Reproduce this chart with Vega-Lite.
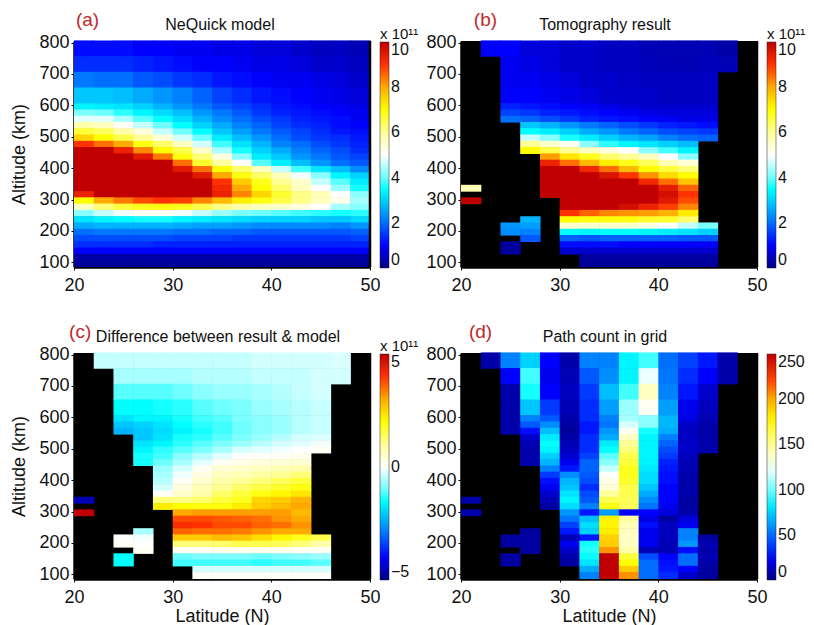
{"$schema":"https://vega.github.io/schema/vega-lite/v6.json","padding":{"left":10,"top":10,"right":0,"bottom":0},"bounds":"flush","background":"white",
"config":{"font":"Liberation Sans","axis":{"grid":false,"domainColor":"black","domainWidth":2.5,"tickColor":"black","tickSize":3,"labelColor":"#111","titleColor":"#111","labelFontSize":18,"titleFontSize":18,"titleFontWeight":"normal","labelFlush":false,"zindex":1,"labelOverlap":false},"legend":{"labelFontSize":16,"labelColor":"#111","labelBaseline":"middle","titleFontSize":15,"titleFontWeight":"normal","titleColor":"#111","gradientThickness":9,"gradientLength":226,"gradientStrokeColor":"#222","gradientStrokeWidth":0.5,"labelOffset":3,"titlePadding":0,"labelOverlap":false},"title":{"fontSize":16,"fontWeight":"normal","color":"#111"}},
"datasets":{"grid":[
{"lat":20,"lat2":22,"alt":755,"alt2":805,"a":1.1},{"lat":22,"lat2":24,"alt":755,"alt2":805,"a":1.1,"b":1.0,"c":-0.4,"d":8},{"lat":24,"lat2":26,"alt":755,"alt2":805,"a":1.1,"b":1.0,"c":-0.4,"d":55},{"lat":26,"lat2":28,"alt":755,"alt2":805,"a":1.0,"b":0.7,"c":-0.4,"d":75},{"lat":28,"lat2":30,"alt":755,"alt2":805,"a":1.0,"b":0.7,"c":-0.4,"d":25},{"lat":30,"lat2":32,"alt":755,"alt2":805,"a":0.9,"b":0.6,"c":-0.4,"d":8},{"lat":32,"lat2":34,"alt":755,"alt2":805,"a":0.9,"b":0.6,"c":-0.4,"d":55},{"lat":34,"lat2":36,"alt":755,"alt2":805,"a":0.8,"b":0.5,"c":-0.4,"d":55},{"lat":36,"lat2":38,"alt":755,"alt2":805,"a":0.8,"b":0.5,"c":-0.4,"d":85},{"lat":38,"lat2":40,"alt":755,"alt2":805,"a":0.7,"b":0.4,"c":-0.3,"d":95},{"lat":40,"lat2":42,"alt":755,"alt2":805,"a":0.7,"b":0.4,"c":-0.3,"d":50},{"lat":42,"lat2":44,"alt":755,"alt2":805,"a":0.6,"b":0.4,"c":-0.3,"d":40},{"lat":44,"lat2":46,"alt":755,"alt2":805,"a":0.5,"b":0.4,"c":-0.3,"d":30},{"lat":46,"lat2":48,"alt":755,"alt2":805,"a":0.5,"b":0.3,"c":-0.25,"d":8},{"lat":48,"lat2":50,"alt":755,"alt2":805,"a":0.4},
{"lat":20,"lat2":22,"alt":705,"alt2":755,"a":1.4},{"lat":22,"lat2":24,"alt":705,"alt2":755,"a":1.4},{"lat":24,"lat2":26,"alt":705,"alt2":755,"a":1.4,"b":0.9,"c":-0.6,"d":25},{"lat":26,"lat2":28,"alt":705,"alt2":755,"a":1.3,"b":0.8,"c":-0.6,"d":95},{"lat":28,"lat2":30,"alt":705,"alt2":755,"a":1.2,"b":0.7,"c":-0.6,"d":22},{"lat":30,"lat2":32,"alt":705,"alt2":755,"a":1.1,"b":0.6,"c":-0.6,"d":10},{"lat":32,"lat2":34,"alt":705,"alt2":755,"a":1.0,"b":0.6,"c":-0.5,"d":45},{"lat":34,"lat2":36,"alt":705,"alt2":755,"a":1.0,"b":0.5,"c":-0.5,"d":58},{"lat":36,"lat2":38,"alt":705,"alt2":755,"a":0.9,"b":0.5,"c":-0.5,"d":85},{"lat":38,"lat2":40,"alt":705,"alt2":755,"a":0.8,"b":0.45,"c":-0.4,"d":122},{"lat":40,"lat2":42,"alt":705,"alt2":755,"a":0.8,"b":0.4,"c":-0.4,"d":52},{"lat":42,"lat2":44,"alt":705,"alt2":755,"a":0.7,"b":0.4,"c":-0.4,"d":35},{"lat":44,"lat2":46,"alt":705,"alt2":755,"a":0.6,"b":0.45,"c":-0.3,"d":25},{"lat":46,"lat2":48,"alt":705,"alt2":755,"a":0.6,"b":0.4,"c":-0.3,"d":8},{"lat":48,"lat2":50,"alt":705,"alt2":755,"a":0.5},
{"lat":20,"lat2":22,"alt":655,"alt2":705,"a":2.1},{"lat":22,"lat2":24,"alt":655,"alt2":705,"a":2.0},{"lat":24,"lat2":26,"alt":655,"alt2":705,"a":2.0,"b":0.9,"c":-1.1,"d":8},{"lat":26,"lat2":28,"alt":655,"alt2":705,"a":1.8,"b":0.9,"c":-1.1,"d":90},{"lat":28,"lat2":30,"alt":655,"alt2":705,"a":1.7,"b":0.8,"c":-1.1,"d":25},{"lat":30,"lat2":32,"alt":655,"alt2":705,"a":1.5,"b":0.7,"c":-1.0,"d":12},{"lat":32,"lat2":34,"alt":655,"alt2":705,"a":1.4,"b":0.6,"c":-0.8,"d":38},{"lat":34,"lat2":36,"alt":655,"alt2":705,"a":1.2,"b":0.6,"c":-0.7,"d":70},{"lat":36,"lat2":38,"alt":655,"alt2":705,"a":1.1,"b":0.55,"c":-0.7,"d":95},{"lat":38,"lat2":40,"alt":655,"alt2":705,"a":1.0,"b":0.5,"c":-0.6,"d":140},{"lat":40,"lat2":42,"alt":655,"alt2":705,"a":0.9,"b":0.5,"c":-0.5,"d":55},{"lat":42,"lat2":44,"alt":655,"alt2":705,"a":0.9,"b":0.5,"c":-0.4,"d":30},{"lat":44,"lat2":46,"alt":655,"alt2":705,"a":0.8,"b":0.5,"c":-0.3,"d":15},{"lat":46,"lat2":48,"alt":655,"alt2":705,"a":0.7},{"lat":48,"lat2":50,"alt":655,"alt2":705,"a":0.6},
{"lat":20,"lat2":22,"alt":605,"alt2":655,"a":2.9},{"lat":22,"lat2":24,"alt":605,"alt2":655,"a":2.9},{"lat":24,"lat2":26,"alt":605,"alt2":655,"a":2.8,"b":1.0,"c":-1.5,"d":8},{"lat":26,"lat2":28,"alt":605,"alt2":655,"a":2.6,"b":1.0,"c":-1.5,"d":72},{"lat":28,"lat2":30,"alt":605,"alt2":655,"a":2.4,"b":0.9,"c":-1.4,"d":38},{"lat":30,"lat2":32,"alt":605,"alt2":655,"a":2.2,"b":0.8,"c":-1.3,"d":10},{"lat":32,"lat2":34,"alt":605,"alt2":655,"a":1.9,"b":0.7,"c":-1.1,"d":35},{"lat":34,"lat2":36,"alt":605,"alt2":655,"a":1.6,"b":0.6,"c":-1.0,"d":62},{"lat":36,"lat2":38,"alt":605,"alt2":655,"a":1.4,"b":0.6,"c":-0.9,"d":108},{"lat":38,"lat2":40,"alt":605,"alt2":655,"a":1.2,"b":0.6,"c":-0.7,"d":128},{"lat":40,"lat2":42,"alt":605,"alt2":655,"a":1.1,"b":0.5,"c":-0.6,"d":62},{"lat":42,"lat2":44,"alt":605,"alt2":655,"a":1.0,"b":0.5,"c":-0.5,"d":22},{"lat":44,"lat2":46,"alt":605,"alt2":655,"a":0.9,"b":0.5,"c":-0.4,"d":12},{"lat":46,"lat2":48,"alt":605,"alt2":655,"a":0.8},{"lat":48,"lat2":50,"alt":605,"alt2":655,"a":0.7},
{"lat":20,"lat2":22,"alt":585,"alt2":605,"a":3.4},{"lat":22,"lat2":24,"alt":585,"alt2":605,"a":3.3},{"lat":24,"lat2":26,"alt":585,"alt2":605,"a":3.2,"b":1.3,"c":-1.8,"d":8},{"lat":26,"lat2":28,"alt":585,"alt2":605,"a":3.0,"b":1.2,"c":-1.6,"d":55},{"lat":28,"lat2":30,"alt":585,"alt2":605,"a":2.7,"b":1.1,"c":-1.6,"d":45},{"lat":30,"lat2":32,"alt":585,"alt2":605,"a":2.4,"b":1.0,"c":-1.4,"d":8},{"lat":32,"lat2":34,"alt":585,"alt2":605,"a":2.1,"b":0.9,"c":-1.2,"d":35},{"lat":34,"lat2":36,"alt":585,"alt2":605,"a":1.8,"b":0.8,"c":-1.1,"d":55},{"lat":36,"lat2":38,"alt":585,"alt2":605,"a":1.6,"b":0.7,"c":-0.9,"d":110},{"lat":38,"lat2":40,"alt":585,"alt2":605,"a":1.4,"b":0.6,"c":-0.8,"d":105},{"lat":40,"lat2":42,"alt":585,"alt2":605,"a":1.2,"b":0.6,"c":-0.7,"d":68},{"lat":42,"lat2":44,"alt":585,"alt2":605,"a":1.1,"b":0.6,"c":-0.5,"d":20},{"lat":44,"lat2":46,"alt":585,"alt2":605,"a":1.0,"b":0.6,"c":-0.4,"d":10},{"lat":46,"lat2":48,"alt":585,"alt2":605,"a":0.9},{"lat":48,"lat2":50,"alt":585,"alt2":605,"a":0.8},
{"lat":20,"lat2":22,"alt":565,"alt2":585,"a":4.1},{"lat":22,"lat2":24,"alt":565,"alt2":585,"a":4.0},{"lat":24,"lat2":26,"alt":565,"alt2":585,"a":3.7,"b":1.6,"c":-2.1,"d":8},{"lat":26,"lat2":28,"alt":565,"alt2":585,"a":3.4,"b":1.5,"c":-2.0,"d":45},{"lat":28,"lat2":30,"alt":565,"alt2":585,"a":3.1,"b":1.3,"c":-1.8,"d":58},{"lat":30,"lat2":32,"alt":565,"alt2":585,"a":2.8,"b":1.2,"c":-1.5,"d":6},{"lat":32,"lat2":34,"alt":565,"alt2":585,"a":2.4,"b":1.1,"c":-1.3,"d":30},{"lat":34,"lat2":36,"alt":565,"alt2":585,"a":2.1,"b":1.0,"c":-1.2,"d":52},{"lat":36,"lat2":38,"alt":565,"alt2":585,"a":1.8,"b":0.9,"c":-1.0,"d":118},{"lat":38,"lat2":40,"alt":565,"alt2":585,"a":1.5,"b":0.8,"c":-0.8,"d":105},{"lat":40,"lat2":42,"alt":565,"alt2":585,"a":1.3,"b":0.7,"c":-0.7,"d":68},{"lat":42,"lat2":44,"alt":565,"alt2":585,"a":1.2,"b":0.7,"c":-0.5,"d":14},{"lat":44,"lat2":46,"alt":565,"alt2":585,"a":1.1,"b":0.7,"c":-0.4,"d":8},{"lat":46,"lat2":48,"alt":565,"alt2":585,"a":1.0},{"lat":48,"lat2":50,"alt":565,"alt2":585,"a":0.9},
{"lat":20,"lat2":22,"alt":545,"alt2":565,"a":4.8},{"lat":22,"lat2":24,"alt":545,"alt2":565,"a":4.8},{"lat":24,"lat2":26,"alt":545,"alt2":565,"a":4.4,"b":2.0,"c":-2.3,"d":8},{"lat":26,"lat2":28,"alt":545,"alt2":565,"a":3.9,"b":1.9,"c":-2.1,"d":28},{"lat":28,"lat2":30,"alt":545,"alt2":565,"a":3.5,"b":1.7,"c":-1.9,"d":70},{"lat":30,"lat2":32,"alt":545,"alt2":565,"a":3.1,"b":1.5,"c":-1.6,"d":5},{"lat":32,"lat2":34,"alt":545,"alt2":565,"a":2.7,"b":1.3,"c":-1.4,"d":30},{"lat":34,"lat2":36,"alt":545,"alt2":565,"a":2.3,"b":1.2,"c":-1.2,"d":60},{"lat":36,"lat2":38,"alt":545,"alt2":565,"a":2.0,"b":1.1,"c":-1.0,"d":128},{"lat":38,"lat2":40,"alt":545,"alt2":565,"a":1.7,"b":1.0,"c":-0.8,"d":90},{"lat":40,"lat2":42,"alt":545,"alt2":565,"a":1.5,"b":0.9,"c":-0.7,"d":65},{"lat":42,"lat2":44,"alt":545,"alt2":565,"a":1.3,"b":0.8,"c":-0.5,"d":12},{"lat":44,"lat2":46,"alt":545,"alt2":565,"a":1.2,"b":0.8,"c":-0.4,"d":8},{"lat":46,"lat2":48,"alt":545,"alt2":565,"a":1.1},{"lat":48,"lat2":50,"alt":545,"alt2":565,"a":0.9},
{"lat":20,"lat2":22,"alt":525,"alt2":545,"a":5.8},{"lat":22,"lat2":24,"alt":525,"alt2":545,"a":5.6},{"lat":24,"lat2":26,"alt":525,"alt2":545,"a":5.1},{"lat":26,"lat2":28,"alt":525,"alt2":545,"a":4.6,"b":2.9,"c":-2.1,"d":15},{"lat":28,"lat2":30,"alt":525,"alt2":545,"a":4.0,"b":2.7,"c":-1.8,"d":82},{"lat":30,"lat2":32,"alt":525,"alt2":545,"a":3.5,"b":2.4,"c":-1.4,"d":8},{"lat":32,"lat2":34,"alt":525,"alt2":545,"a":3.0,"b":2.1,"c":-1.3,"d":35},{"lat":34,"lat2":36,"alt":525,"alt2":545,"a":2.6,"b":1.9,"c":-1.1,"d":65},{"lat":36,"lat2":38,"alt":525,"alt2":545,"a":2.2,"b":1.7,"c":-0.9,"d":140},{"lat":38,"lat2":40,"alt":525,"alt2":545,"a":1.9,"b":1.5,"c":-0.7,"d":85},{"lat":40,"lat2":42,"alt":525,"alt2":545,"a":1.6,"b":1.3,"c":-0.5,"d":55},{"lat":42,"lat2":44,"alt":525,"alt2":545,"a":1.4,"b":1.2,"c":-0.3,"d":14},{"lat":44,"lat2":46,"alt":525,"alt2":545,"a":1.3,"b":1.1,"c":-0.25,"d":8},{"lat":46,"lat2":48,"alt":525,"alt2":545,"a":1.1},{"lat":48,"lat2":50,"alt":525,"alt2":545,"a":1.0},
{"lat":20,"lat2":22,"alt":505,"alt2":525,"a":6.6},{"lat":22,"lat2":24,"alt":505,"alt2":525,"a":6.4},{"lat":24,"lat2":26,"alt":505,"alt2":525,"a":5.8},{"lat":26,"lat2":28,"alt":505,"alt2":525,"a":5.3,"b":3.5,"c":-1.8,"d":10},{"lat":28,"lat2":30,"alt":505,"alt2":525,"a":4.6,"b":3.3,"c":-1.6,"d":88},{"lat":30,"lat2":32,"alt":505,"alt2":525,"a":4.0,"b":3.0,"c":-1.3,"d":10},{"lat":32,"lat2":34,"alt":505,"alt2":525,"a":3.5,"b":2.6,"c":-1.1,"d":35},{"lat":34,"lat2":36,"alt":505,"alt2":525,"a":2.9,"b":2.4,"c":-0.9,"d":82},{"lat":36,"lat2":38,"alt":505,"alt2":525,"a":2.5,"b":2.1,"c":-0.7,"d":150},{"lat":38,"lat2":40,"alt":505,"alt2":525,"a":2.1,"b":1.9,"c":-0.5,"d":85},{"lat":40,"lat2":42,"alt":505,"alt2":525,"a":1.8,"b":1.7,"c":-0.3,"d":48},{"lat":42,"lat2":44,"alt":505,"alt2":525,"a":1.6,"b":1.6,"c":-0.2,"d":14},{"lat":44,"lat2":46,"alt":505,"alt2":525,"a":1.4,"b":1.5,"c":-0.1,"d":8},{"lat":46,"lat2":48,"alt":505,"alt2":525,"a":1.2},{"lat":48,"lat2":50,"alt":505,"alt2":525,"a":1.1},
{"lat":20,"lat2":22,"alt":485,"alt2":505,"a":7.5},{"lat":22,"lat2":24,"alt":485,"alt2":505,"a":7.0},{"lat":24,"lat2":26,"alt":485,"alt2":505,"a":6.5},{"lat":26,"lat2":28,"alt":485,"alt2":505,"a":6.0,"b":4.6,"c":-1.6,"d":8},{"lat":28,"lat2":30,"alt":485,"alt2":505,"a":5.4,"b":4.2,"c":-1.3,"d":85},{"lat":30,"lat2":32,"alt":485,"alt2":505,"a":4.7,"b":3.6,"c":-1.1,"d":12},{"lat":32,"lat2":34,"alt":485,"alt2":505,"a":4.0,"b":3.3,"c":-0.9,"d":35},{"lat":34,"lat2":36,"alt":485,"alt2":505,"a":3.3,"b":3.0,"c":-0.6,"d":88},{"lat":36,"lat2":38,"alt":485,"alt2":505,"a":2.8,"b":2.7,"c":-0.3,"d":155},{"lat":38,"lat2":40,"alt":485,"alt2":505,"a":2.4,"b":2.5,"c":-0.2,"d":85},{"lat":40,"lat2":42,"alt":485,"alt2":505,"a":2.0,"b":2.2,"c":-0.1,"d":42},{"lat":42,"lat2":44,"alt":485,"alt2":505,"a":1.7,"b":2.0,"c":0,"d":14},{"lat":44,"lat2":46,"alt":485,"alt2":505,"a":1.5,"b":1.9,"c":0.1,"d":8},{"lat":46,"lat2":48,"alt":485,"alt2":505,"a":1.4},{"lat":48,"lat2":50,"alt":485,"alt2":505,"a":1.2},
{"lat":20,"lat2":22,"alt":465,"alt2":485,"a":9.0},{"lat":22,"lat2":24,"alt":465,"alt2":485,"a":8.5},{"lat":24,"lat2":26,"alt":465,"alt2":485,"a":8.0},{"lat":26,"lat2":28,"alt":465,"alt2":485,"a":6.9,"b":6.0,"c":-1.4,"d":8},{"lat":28,"lat2":30,"alt":465,"alt2":485,"a":6.3,"b":5.5,"c":-1.2,"d":75},{"lat":30,"lat2":32,"alt":465,"alt2":485,"a":5.6,"b":5.1,"c":-0.8,"d":16},{"lat":32,"lat2":34,"alt":465,"alt2":485,"a":4.7,"b":4.2,"c":-0.5,"d":40},{"lat":34,"lat2":36,"alt":465,"alt2":485,"a":3.8,"b":3.7,"c":-0.2,"d":98},{"lat":36,"lat2":38,"alt":465,"alt2":485,"a":3.2,"b":3.4,"c":0,"d":162},{"lat":38,"lat2":40,"alt":465,"alt2":485,"a":2.7,"b":3.2,"c":0.1,"d":85},{"lat":40,"lat2":42,"alt":465,"alt2":485,"a":2.2,"b":3.0,"c":0.1,"d":38},{"lat":42,"lat2":44,"alt":465,"alt2":485,"a":2.0,"b":2.8,"c":0.2,"d":12},{"lat":44,"lat2":46,"alt":465,"alt2":485,"a":1.7},{"lat":46,"lat2":48,"alt":465,"alt2":485,"a":1.5},{"lat":48,"lat2":50,"alt":465,"alt2":485,"a":1.3},
{"lat":20,"lat2":22,"alt":445,"alt2":465,"a":10},{"lat":22,"lat2":24,"alt":445,"alt2":465,"a":10},{"lat":24,"lat2":26,"alt":445,"alt2":465,"a":9.3},{"lat":26,"lat2":28,"alt":445,"alt2":465,"a":8.3,"b":7.0,"c":-1.4,"d":8},{"lat":28,"lat2":30,"alt":445,"alt2":465,"a":7.0,"b":6.5,"c":-1.0,"d":68},{"lat":30,"lat2":32,"alt":445,"alt2":465,"a":6.5,"b":6.0,"c":-0.6,"d":22},{"lat":32,"lat2":34,"alt":445,"alt2":465,"a":5.5,"b":5.6,"c":-0.2,"d":48},{"lat":34,"lat2":36,"alt":445,"alt2":465,"a":4.4,"b":5.3,"c":0.1,"d":105},{"lat":36,"lat2":38,"alt":445,"alt2":465,"a":3.6,"b":5.0,"c":0.2,"d":165},{"lat":38,"lat2":40,"alt":445,"alt2":465,"a":3.0,"b":4.2,"c":0.3,"d":85},{"lat":40,"lat2":42,"alt":445,"alt2":465,"a":2.6,"b":3.8,"c":0.4,"d":32},{"lat":42,"lat2":44,"alt":445,"alt2":465,"a":2.2,"b":3.4,"c":0.4,"d":10},{"lat":44,"lat2":46,"alt":445,"alt2":465,"a":1.9},{"lat":46,"lat2":48,"alt":445,"alt2":465,"a":1.7},{"lat":48,"lat2":50,"alt":445,"alt2":465,"a":1.4},
{"lat":20,"lat2":22,"alt":425,"alt2":445,"a":10},{"lat":22,"lat2":24,"alt":425,"alt2":445,"a":10},{"lat":24,"lat2":26,"alt":425,"alt2":445,"a":10},{"lat":26,"lat2":28,"alt":425,"alt2":445,"a":9.5},{"lat":28,"lat2":30,"alt":425,"alt2":445,"a":8.4,"b":8.1,"c":-0.7,"d":55},{"lat":30,"lat2":32,"alt":425,"alt2":445,"a":6.9,"b":7.3,"c":-0.3,"d":30},{"lat":32,"lat2":34,"alt":425,"alt2":445,"a":6.2,"b":6.8,"c":0.1,"d":48},{"lat":34,"lat2":36,"alt":425,"alt2":445,"a":5.3,"b":6.3,"c":0.4,"d":115},{"lat":36,"lat2":38,"alt":425,"alt2":445,"a":4.2,"b":6.0,"c":0.5,"d":170},{"lat":38,"lat2":40,"alt":425,"alt2":445,"a":3.3,"b":5.6,"c":0.6,"d":82},{"lat":40,"lat2":42,"alt":425,"alt2":445,"a":2.9,"b":5.0,"c":0.7,"d":30},{"lat":42,"lat2":44,"alt":425,"alt2":445,"a":2.4,"b":4.2,"c":0.8,"d":10},{"lat":44,"lat2":46,"alt":425,"alt2":445,"a":2.1},{"lat":46,"lat2":48,"alt":425,"alt2":445,"a":1.8},{"lat":48,"lat2":50,"alt":425,"alt2":445,"a":1.6},
{"lat":20,"lat2":22,"alt":405,"alt2":425,"a":10},{"lat":22,"lat2":24,"alt":405,"alt2":425,"a":10},{"lat":24,"lat2":26,"alt":405,"alt2":425,"a":10},{"lat":26,"lat2":28,"alt":405,"alt2":425,"a":10},{"lat":28,"lat2":30,"alt":405,"alt2":425,"a":10,"b":9.3,"c":-0.6,"d":38},{"lat":30,"lat2":32,"alt":405,"alt2":425,"a":8.5,"b":8.5,"c":-0.1,"d":58},{"lat":32,"lat2":34,"alt":405,"alt2":425,"a":6.7,"b":7.8,"c":0.3,"d":45},{"lat":34,"lat2":36,"alt":405,"alt2":425,"a":5.9,"b":7.2,"c":0.6,"d":125},{"lat":36,"lat2":38,"alt":405,"alt2":425,"a":5.0,"b":6.8,"c":0.7,"d":170},{"lat":38,"lat2":40,"alt":405,"alt2":425,"a":3.9,"b":6.4,"c":0.9,"d":78},{"lat":40,"lat2":42,"alt":405,"alt2":425,"a":3.3,"b":5.7,"c":1.0,"d":28},{"lat":42,"lat2":44,"alt":405,"alt2":425,"a":2.8,"b":5.4,"c":1.2,"d":8},{"lat":44,"lat2":46,"alt":405,"alt2":425,"a":2.4},{"lat":46,"lat2":48,"alt":405,"alt2":425,"a":2.0},{"lat":48,"lat2":50,"alt":405,"alt2":425,"a":1.8},
{"lat":20,"lat2":22,"alt":385,"alt2":405,"a":10},{"lat":22,"lat2":24,"alt":385,"alt2":405,"a":10},{"lat":24,"lat2":26,"alt":385,"alt2":405,"a":10},{"lat":26,"lat2":28,"alt":385,"alt2":405,"a":10},{"lat":28,"lat2":30,"alt":385,"alt2":405,"a":10,"b":10,"c":-0.5,"d":28},{"lat":30,"lat2":32,"alt":385,"alt2":405,"a":9.5,"b":10,"c":0.1,"d":68},{"lat":32,"lat2":34,"alt":385,"alt2":405,"a":8.5,"b":9.2,"c":0.5,"d":42},{"lat":34,"lat2":36,"alt":385,"alt2":405,"a":7.0,"b":8.5,"c":0.8,"d":130},{"lat":36,"lat2":38,"alt":385,"alt2":405,"a":6.3,"b":7.8,"c":1.0,"d":168},{"lat":38,"lat2":40,"alt":385,"alt2":405,"a":5.6,"b":7.0,"c":1.2,"d":78},{"lat":40,"lat2":42,"alt":385,"alt2":405,"a":4.6,"b":6.6,"c":1.4,"d":28},{"lat":42,"lat2":44,"alt":385,"alt2":405,"a":3.8,"b":6.2,"c":1.6,"d":8},{"lat":44,"lat2":46,"alt":385,"alt2":405,"a":3.2},{"lat":46,"lat2":48,"alt":385,"alt2":405,"a":2.8},{"lat":48,"lat2":50,"alt":385,"alt2":405,"a":2.3},
{"lat":20,"lat2":22,"alt":365,"alt2":385,"a":10},{"lat":22,"lat2":24,"alt":365,"alt2":385,"a":10},{"lat":24,"lat2":26,"alt":365,"alt2":385,"a":10},{"lat":26,"lat2":28,"alt":365,"alt2":385,"a":10},{"lat":28,"lat2":30,"alt":365,"alt2":385,"a":10,"b":10,"c":-0.3,"d":22},{"lat":30,"lat2":32,"alt":365,"alt2":385,"a":10,"b":10,"c":0.3,"d":72},{"lat":32,"lat2":34,"alt":365,"alt2":385,"a":9.5,"b":10,"c":0.7,"d":35},{"lat":34,"lat2":36,"alt":365,"alt2":385,"a":8.0,"b":9.6,"c":1.0,"d":135},{"lat":36,"lat2":38,"alt":365,"alt2":385,"a":6.9,"b":9.0,"c":1.3,"d":162},{"lat":38,"lat2":40,"alt":365,"alt2":385,"a":6.3,"b":8.2,"c":1.5,"d":72},{"lat":40,"lat2":42,"alt":365,"alt2":385,"a":5.6,"b":7.4,"c":1.7,"d":25},{"lat":42,"lat2":44,"alt":365,"alt2":385,"a":4.9,"b":7.0,"c":1.9,"d":8},{"lat":44,"lat2":46,"alt":365,"alt2":385,"a":4.2},{"lat":46,"lat2":48,"alt":365,"alt2":385,"a":3.4},{"lat":48,"lat2":50,"alt":365,"alt2":385,"a":3.0},
{"lat":20,"lat2":22,"alt":345,"alt2":365,"a":10},{"lat":22,"lat2":24,"alt":345,"alt2":365,"a":10},{"lat":24,"lat2":26,"alt":345,"alt2":365,"a":10},{"lat":26,"lat2":28,"alt":345,"alt2":365,"a":10},{"lat":28,"lat2":30,"alt":345,"alt2":365,"a":10,"b":10,"c":0.1,"d":15},{"lat":30,"lat2":32,"alt":345,"alt2":365,"a":10,"b":10,"c":0.5,"d":80},{"lat":32,"lat2":34,"alt":345,"alt2":365,"a":10,"b":10,"c":0.8,"d":42},{"lat":34,"lat2":36,"alt":345,"alt2":365,"a":9.0,"b":10,"c":1.3,"d":148},{"lat":36,"lat2":38,"alt":345,"alt2":365,"a":7.6,"b":10,"c":1.6,"d":162},{"lat":38,"lat2":40,"alt":345,"alt2":365,"a":6.8,"b":9.2,"c":1.9,"d":65},{"lat":40,"lat2":42,"alt":345,"alt2":365,"a":6.0,"b":8.5,"c":2.1,"d":25},{"lat":42,"lat2":44,"alt":345,"alt2":365,"a":5.5,"b":7.7,"c":2.3,"d":8},{"lat":44,"lat2":46,"alt":345,"alt2":365,"a":4.6},{"lat":46,"lat2":48,"alt":345,"alt2":365,"a":3.9},{"lat":48,"lat2":50,"alt":345,"alt2":365,"a":3.3},
{"lat":20,"lat2":22,"alt":325,"alt2":345,"a":10,"b":5.7,"c":-4.6,"d":8},{"lat":22,"lat2":24,"alt":325,"alt2":345,"a":10},{"lat":24,"lat2":26,"alt":325,"alt2":345,"a":10},{"lat":26,"lat2":28,"alt":325,"alt2":345,"a":10},{"lat":28,"lat2":30,"alt":325,"alt2":345,"a":10,"b":10,"c":1.2,"d":10},{"lat":30,"lat2":32,"alt":325,"alt2":345,"a":10,"b":10,"c":1.1,"d":85},{"lat":32,"lat2":34,"alt":325,"alt2":345,"a":10,"b":10,"c":1.3,"d":45},{"lat":34,"lat2":36,"alt":325,"alt2":345,"a":9.2,"b":10,"c":1.6,"d":162},{"lat":36,"lat2":38,"alt":325,"alt2":345,"a":8.0,"b":10,"c":1.8,"d":160},{"lat":38,"lat2":40,"alt":325,"alt2":345,"a":7.0,"b":10,"c":2.5,"d":58},{"lat":40,"lat2":42,"alt":325,"alt2":345,"a":6.3,"b":9.4,"c":2.6,"d":25},{"lat":42,"lat2":44,"alt":325,"alt2":345,"a":5.6,"b":8.6,"c":2.9,"d":6},{"lat":44,"lat2":46,"alt":325,"alt2":345,"a":5.0},{"lat":46,"lat2":48,"alt":325,"alt2":345,"a":4.3},{"lat":48,"lat2":50,"alt":325,"alt2":345,"a":3.6},
{"lat":20,"lat2":22,"alt":305,"alt2":325,"a":9.3},{"lat":22,"lat2":24,"alt":305,"alt2":325,"a":10},{"lat":24,"lat2":26,"alt":305,"alt2":325,"a":10},{"lat":26,"lat2":28,"alt":305,"alt2":325,"a":10},{"lat":28,"lat2":30,"alt":305,"alt2":325,"a":10,"b":10,"c":2.2,"d":6},{"lat":30,"lat2":32,"alt":305,"alt2":325,"a":10,"b":10,"c":2.0,"d":78},{"lat":32,"lat2":34,"alt":305,"alt2":325,"a":10,"b":10,"c":1.9,"d":55},{"lat":34,"lat2":36,"alt":305,"alt2":325,"a":9.3,"b":10,"c":1.9,"d":172},{"lat":36,"lat2":38,"alt":305,"alt2":325,"a":8.3,"b":10,"c":2.2,"d":160},{"lat":38,"lat2":40,"alt":305,"alt2":325,"a":7.5,"b":10,"c":2.6,"d":52},{"lat":40,"lat2":42,"alt":305,"alt2":325,"a":6.7,"b":9.7,"c":2.8,"d":22},{"lat":42,"lat2":44,"alt":305,"alt2":325,"a":6.1,"b":9.0,"c":3.0,"d":6},{"lat":44,"lat2":46,"alt":305,"alt2":325,"a":5.7},{"lat":46,"lat2":48,"alt":305,"alt2":325,"a":5.0},{"lat":48,"lat2":50,"alt":305,"alt2":325,"a":4.2},
{"lat":20,"lat2":22,"alt":285,"alt2":305,"a":7.0,"b":10,"c":5,"d":8},{"lat":22,"lat2":24,"alt":285,"alt2":305,"a":8.0},{"lat":24,"lat2":26,"alt":285,"alt2":305,"a":8.4},{"lat":26,"lat2":28,"alt":285,"alt2":305,"a":8.8},{"lat":28,"lat2":30,"alt":285,"alt2":305,"a":9.0},{"lat":30,"lat2":32,"alt":285,"alt2":305,"a":8.9,"b":10,"c":3.0,"d":60},{"lat":32,"lat2":34,"alt":285,"alt2":305,"a":8.3,"b":10,"c":3.1,"d":30},{"lat":34,"lat2":36,"alt":285,"alt2":305,"a":7.8,"b":10,"c":3.1,"d":62},{"lat":36,"lat2":38,"alt":285,"alt2":305,"a":7.2,"b":10,"c":3.1,"d":25},{"lat":38,"lat2":40,"alt":285,"alt2":305,"a":6.9,"b":10,"c":3.1,"d":25},{"lat":40,"lat2":42,"alt":285,"alt2":305,"a":6.5,"b":9.5,"c":3.1,"d":18},{"lat":42,"lat2":44,"alt":285,"alt2":305,"a":6.1,"b":8.8,"c":2.8,"d":8},{"lat":44,"lat2":46,"alt":285,"alt2":305,"a":5.6},{"lat":46,"lat2":48,"alt":285,"alt2":305,"a":5.2},{"lat":48,"lat2":50,"alt":285,"alt2":305,"a":4.4},
{"lat":20,"lat2":22,"alt":265,"alt2":285,"a":5.6},{"lat":22,"lat2":24,"alt":265,"alt2":285,"a":6.2},{"lat":24,"lat2":26,"alt":265,"alt2":285,"a":6.6},{"lat":26,"lat2":28,"alt":265,"alt2":285,"a":6.8},{"lat":28,"lat2":30,"alt":265,"alt2":285,"a":6.9},{"lat":30,"lat2":32,"alt":265,"alt2":285,"a":6.8,"b":10,"c":3.8,"d":52},{"lat":32,"lat2":34,"alt":265,"alt2":285,"a":6.5,"b":10,"c":3.8,"d":70},{"lat":34,"lat2":36,"alt":265,"alt2":285,"a":6.1,"b":10,"c":3.7,"d":178},{"lat":36,"lat2":38,"alt":265,"alt2":285,"a":5.8,"b":9.7,"c":3.6,"d":148},{"lat":38,"lat2":40,"alt":265,"alt2":285,"a":5.6,"b":9.3,"c":3.5,"d":20},{"lat":40,"lat2":42,"alt":265,"alt2":285,"a":5.5,"b":8.9,"c":3.2,"d":6},{"lat":42,"lat2":44,"alt":265,"alt2":285,"a":5.3,"b":8.3,"c":3.0,"d":18},{"lat":44,"lat2":46,"alt":265,"alt2":285,"a":5.0},{"lat":46,"lat2":48,"alt":265,"alt2":285,"a":4.4},{"lat":48,"lat2":50,"alt":265,"alt2":285,"a":4.2},
{"lat":20,"lat2":22,"alt":245,"alt2":265,"a":4.2},{"lat":22,"lat2":24,"alt":245,"alt2":265,"a":4.6},{"lat":24,"lat2":26,"alt":245,"alt2":265,"a":4.9},{"lat":26,"lat2":28,"alt":245,"alt2":265,"a":5.1},{"lat":28,"lat2":30,"alt":245,"alt2":265,"a":5.1},{"lat":30,"lat2":32,"alt":245,"alt2":265,"a":4.9,"b":9.0,"c":4.1,"d":40},{"lat":32,"lat2":34,"alt":245,"alt2":265,"a":4.6,"b":8.6,"c":4.0,"d":78},{"lat":34,"lat2":36,"alt":245,"alt2":265,"a":4.3,"b":8.3,"c":3.8,"d":178},{"lat":36,"lat2":38,"alt":245,"alt2":265,"a":4.1,"b":8.2,"c":3.8,"d":142},{"lat":38,"lat2":40,"alt":245,"alt2":265,"a":4.0,"b":8.1,"c":3.6,"d":28},{"lat":40,"lat2":42,"alt":245,"alt2":265,"a":3.9,"b":7.9,"c":3.5,"d":12},{"lat":42,"lat2":44,"alt":245,"alt2":265,"a":3.8,"b":7.2,"c":3.2,"d":22},{"lat":44,"lat2":46,"alt":245,"alt2":265,"a":3.7},{"lat":46,"lat2":48,"alt":245,"alt2":265,"a":3.6},{"lat":48,"lat2":50,"alt":245,"alt2":265,"a":3.7},
{"lat":20,"lat2":22,"alt":225,"alt2":245,"a":3.2},{"lat":22,"lat2":24,"alt":225,"alt2":245,"a":3.4},{"lat":24,"lat2":26,"alt":225,"alt2":245,"a":3.5},{"lat":26,"lat2":28,"alt":225,"alt2":245,"a":3.6,"b":2.7,"c":-0.6,"d":6},{"lat":28,"lat2":30,"alt":225,"alt2":245,"a":3.6},{"lat":30,"lat2":32,"alt":225,"alt2":245,"a":3.4,"b":7.0,"c":3.6,"d":30},{"lat":32,"lat2":34,"alt":225,"alt2":245,"a":3.3,"b":6.9,"c":3.5,"d":75},{"lat":34,"lat2":36,"alt":225,"alt2":245,"a":3.2,"b":6.9,"c":3.5,"d":180},{"lat":36,"lat2":38,"alt":225,"alt2":245,"a":3.1,"b":6.9,"c":3.4,"d":140},{"lat":38,"lat2":40,"alt":225,"alt2":245,"a":3.0,"b":6.7,"c":3.2,"d":22},{"lat":40,"lat2":42,"alt":225,"alt2":245,"a":3.0,"b":6.7,"c":3.0,"d":12},{"lat":42,"lat2":44,"alt":225,"alt2":245,"a":3.0,"b":6.3,"c":3.0,"d":55},{"lat":44,"lat2":46,"alt":225,"alt2":245,"a":2.9},{"lat":46,"lat2":48,"alt":225,"alt2":245,"a":2.9},{"lat":48,"lat2":50,"alt":225,"alt2":245,"a":3.1},
{"lat":20,"lat2":22,"alt":205,"alt2":225,"a":2.6},{"lat":22,"lat2":24,"alt":205,"alt2":225,"a":2.7},{"lat":24,"lat2":26,"alt":205,"alt2":225,"a":2.7,"b":2.4,"c":0.0,"d":6},{"lat":26,"lat2":28,"alt":205,"alt2":225,"a":2.7,"b":2.5,"c":-0.1,"d":6},{"lat":28,"lat2":30,"alt":205,"alt2":225,"a":2.7},{"lat":30,"lat2":32,"alt":205,"alt2":225,"a":2.6,"b":5.5,"c":2.6,"d":10},{"lat":32,"lat2":34,"alt":205,"alt2":225,"a":2.5,"b":5.5,"c":2.6,"d":30},{"lat":34,"lat2":36,"alt":205,"alt2":225,"a":2.5,"b":5.5,"c":2.8,"d":188},{"lat":36,"lat2":38,"alt":205,"alt2":225,"a":2.4,"b":5.5,"c":2.7,"d":138},{"lat":38,"lat2":40,"alt":205,"alt2":225,"a":2.3,"b":5.3,"c":2.4,"d":22},{"lat":40,"lat2":42,"alt":205,"alt2":225,"a":2.3,"b":5.0,"c":2.1,"d":12},{"lat":42,"lat2":44,"alt":205,"alt2":225,"a":2.3,"b":4.6,"c":1.8,"d":55},{"lat":44,"lat2":46,"alt":205,"alt2":225,"a":2.3,"b":4.1,"c":1.5,"d":6},{"lat":46,"lat2":48,"alt":205,"alt2":225,"a":2.2},{"lat":48,"lat2":50,"alt":205,"alt2":225,"a":2.4},
{"lat":20,"lat2":22,"alt":185,"alt2":205,"a":2.0},{"lat":22,"lat2":24,"alt":185,"alt2":205,"a":2.1},{"lat":24,"lat2":26,"alt":185,"alt2":205,"a":2.1,"b":2.3,"c":0.1,"d":6},{"lat":26,"lat2":28,"alt":185,"alt2":205,"a":2.1,"b":2.2,"c":0.0,"d":6},{"lat":28,"lat2":30,"alt":185,"alt2":205,"a":2.1},{"lat":30,"lat2":32,"alt":185,"alt2":205,"a":2.0,"b":3.5,"c":1.2,"d":22},{"lat":32,"lat2":34,"alt":185,"alt2":205,"a":2.0,"b":3.4,"c":1.2,"d":90},{"lat":34,"lat2":36,"alt":185,"alt2":205,"a":1.9,"b":3.5,"c":1.3,"d":190},{"lat":36,"lat2":38,"alt":185,"alt2":205,"a":1.9,"b":3.5,"c":1.5,"d":140},{"lat":38,"lat2":40,"alt":185,"alt2":205,"a":1.8,"b":3.4,"c":1.5,"d":22},{"lat":40,"lat2":42,"alt":185,"alt2":205,"a":1.8,"b":3.3,"c":1.4,"d":10},{"lat":42,"lat2":44,"alt":185,"alt2":205,"a":1.8,"b":3.2,"c":1.2,"d":60},{"lat":44,"lat2":46,"alt":185,"alt2":205,"a":1.8,"b":3.0,"c":0.8,"d":10},{"lat":46,"lat2":48,"alt":185,"alt2":205,"a":1.8},{"lat":48,"lat2":50,"alt":185,"alt2":205,"a":1.9},
{"lat":20,"lat2":22,"alt":165,"alt2":185,"a":1.7},{"lat":22,"lat2":24,"alt":165,"alt2":185,"a":1.7},{"lat":24,"lat2":26,"alt":165,"alt2":185,"a":1.7},{"lat":26,"lat2":28,"alt":165,"alt2":185,"a":1.7,"b":1.8,"c":0.1,"d":6},{"lat":28,"lat2":30,"alt":165,"alt2":185,"a":1.7},{"lat":30,"lat2":32,"alt":165,"alt2":185,"a":1.6,"b":1.9,"c":0.1,"d":14},{"lat":32,"lat2":34,"alt":165,"alt2":185,"a":1.6,"b":1.8,"c":0.1,"d":92},{"lat":34,"lat2":36,"alt":165,"alt2":185,"a":1.6,"b":1.9,"c":0.2,"d":205},{"lat":36,"lat2":38,"alt":165,"alt2":185,"a":1.5,"b":1.9,"c":0.2,"d":145},{"lat":38,"lat2":40,"alt":165,"alt2":185,"a":1.5,"b":1.9,"c":0.2,"d":10},{"lat":40,"lat2":42,"alt":165,"alt2":185,"a":1.5,"b":1.9,"c":0.2,"d":10},{"lat":42,"lat2":44,"alt":165,"alt2":185,"a":1.5,"b":1.8,"c":0.1,"d":28},{"lat":44,"lat2":46,"alt":165,"alt2":185,"a":1.5,"b":1.8,"c":0.1,"d":8},{"lat":46,"lat2":48,"alt":165,"alt2":185,"a":1.5},{"lat":48,"lat2":50,"alt":165,"alt2":185,"a":1.6},
{"lat":20,"lat2":22,"alt":145,"alt2":165,"a":1.4},{"lat":22,"lat2":24,"alt":145,"alt2":165,"a":1.4},{"lat":24,"lat2":26,"alt":145,"alt2":165,"a":1.4,"b":0.2,"c":-1.5,"d":6},{"lat":26,"lat2":28,"alt":145,"alt2":165,"a":1.4},{"lat":28,"lat2":30,"alt":145,"alt2":165,"a":1.3},{"lat":30,"lat2":32,"alt":145,"alt2":165,"a":1.3,"b":1.1,"c":-1.0,"d":8},{"lat":32,"lat2":34,"alt":145,"alt2":165,"a":1.3,"b":1.1,"c":-0.9,"d":88},{"lat":34,"lat2":36,"alt":145,"alt2":165,"a":1.3,"b":1.1,"c":-0.9,"d":250},{"lat":36,"lat2":38,"alt":145,"alt2":165,"a":1.3,"b":1.0,"c":-0.9,"d":165},{"lat":38,"lat2":40,"alt":145,"alt2":165,"a":1.3,"b":1.0,"c":-1.0,"d":42},{"lat":40,"lat2":42,"alt":145,"alt2":165,"a":1.3,"b":1.0,"c":-0.9,"d":25},{"lat":42,"lat2":44,"alt":145,"alt2":165,"a":1.3,"b":1.0,"c":-0.8,"d":50},{"lat":44,"lat2":46,"alt":145,"alt2":165,"a":1.3,"b":1.0,"c":-0.7,"d":10},{"lat":46,"lat2":48,"alt":145,"alt2":165,"a":1.3},{"lat":48,"lat2":50,"alt":145,"alt2":165,"a":1.3},
{"lat":20,"lat2":22,"alt":125,"alt2":145,"a":1.0},{"lat":22,"lat2":24,"alt":125,"alt2":145,"a":1.0},{"lat":24,"lat2":26,"alt":125,"alt2":145,"a":1.0,"b":0.2,"c":-1.5,"d":6},{"lat":26,"lat2":28,"alt":125,"alt2":145,"a":1.0},{"lat":28,"lat2":30,"alt":125,"alt2":145,"a":1.0},{"lat":30,"lat2":32,"alt":125,"alt2":145,"a":1.0,"b":0.6,"c":-1.2,"d":6},{"lat":32,"lat2":34,"alt":125,"alt2":145,"a":1.0,"b":0.6,"c":-1.2,"d":80},{"lat":34,"lat2":36,"alt":125,"alt2":145,"a":1.0,"b":0.6,"c":-1.2,"d":250},{"lat":36,"lat2":38,"alt":125,"alt2":145,"a":1.0,"b":0.6,"c":-1.2,"d":175},{"lat":38,"lat2":40,"alt":125,"alt2":145,"a":1.0,"b":0.6,"c":-1.3,"d":50},{"lat":40,"lat2":42,"alt":125,"alt2":145,"a":1.0,"b":0.6,"c":-1.2,"d":28},{"lat":42,"lat2":44,"alt":125,"alt2":145,"a":1.0,"b":0.6,"c":-1.2,"d":50},{"lat":44,"lat2":46,"alt":125,"alt2":145,"a":1.0,"b":0.6,"c":-1.1,"d":8},{"lat":46,"lat2":48,"alt":125,"alt2":145,"a":1.0},{"lat":48,"lat2":50,"alt":125,"alt2":145,"a":1.0},
{"lat":20,"lat2":22,"alt":105,"alt2":125,"a":0.3},{"lat":22,"lat2":24,"alt":105,"alt2":125,"a":0.3},{"lat":24,"lat2":26,"alt":105,"alt2":125,"a":0.3},{"lat":26,"lat2":28,"alt":105,"alt2":125,"a":0.3},{"lat":28,"lat2":30,"alt":105,"alt2":125,"a":0.3},{"lat":30,"lat2":32,"alt":105,"alt2":125,"a":0.3},{"lat":32,"lat2":34,"alt":105,"alt2":125,"a":0.3,"b":0.25,"c":-0.3,"d":65},{"lat":34,"lat2":36,"alt":105,"alt2":125,"a":0.3,"b":0.25,"c":-0.3,"d":250},{"lat":36,"lat2":38,"alt":105,"alt2":125,"a":0.3,"b":0.25,"c":-0.3,"d":190},{"lat":38,"lat2":40,"alt":105,"alt2":125,"a":0.3,"b":0.25,"c":-0.3,"d":50},{"lat":40,"lat2":42,"alt":105,"alt2":125,"a":0.3,"b":0.25,"c":-0.3,"d":30},{"lat":42,"lat2":44,"alt":105,"alt2":125,"a":0.3,"b":0.25,"c":-0.3,"d":25},{"lat":44,"lat2":46,"alt":105,"alt2":125,"a":0.3,"b":0.25,"c":-0.3,"d":6},{"lat":46,"lat2":48,"alt":105,"alt2":125,"a":0.3},{"lat":48,"lat2":50,"alt":105,"alt2":125,"a":0.3},
{"lat":20,"lat2":22,"alt":85,"alt2":105,"a":0.2},{"lat":22,"lat2":24,"alt":85,"alt2":105,"a":0.2},{"lat":24,"lat2":26,"alt":85,"alt2":105,"a":0.2},{"lat":26,"lat2":28,"alt":85,"alt2":105,"a":0.2},{"lat":28,"lat2":30,"alt":85,"alt2":105,"a":0.2},{"lat":30,"lat2":32,"alt":85,"alt2":105,"a":0.2},{"lat":32,"lat2":34,"alt":85,"alt2":105,"a":0.2,"b":0.2,"c":0.05,"d":55},{"lat":34,"lat2":36,"alt":85,"alt2":105,"a":0.2,"b":0.2,"c":0.05,"d":250},{"lat":36,"lat2":38,"alt":85,"alt2":105,"a":0.2,"b":0.2,"c":0.05,"d":205},{"lat":38,"lat2":40,"alt":85,"alt2":105,"a":0.2,"b":0.2,"c":0.05,"d":50},{"lat":40,"lat2":42,"alt":85,"alt2":105,"a":0.2,"b":0.2,"c":0.05,"d":35},{"lat":42,"lat2":44,"alt":85,"alt2":105,"a":0.2,"b":0.2,"c":0.05,"d":15},{"lat":44,"lat2":46,"alt":85,"alt2":105,"a":0.2,"b":0.2,"c":0.05,"d":6},{"lat":46,"lat2":48,"alt":85,"alt2":105,"a":0.2},{"lat":48,"lat2":50,"alt":85,"alt2":105,"a":0.2}
]},
"columns":2,"spacing":{"row":86,"column":91},"resolve":{"scale":{"color":"independent"}},
"concat":[
{"width":296,"height":226,"view":{"fill":"black","stroke":null},"title":{"text":"NeQuick model","offset":-22,"dx":-2},"layer":[
{"data":{"name":"grid"},"transform":[{"filter":{"field":"a","valid":true}}],"mark":{"type":"rect","x2Offset":0.6,"y2Offset":-0.6},"encoding":{"x":{"field":"lat","type":"quantitative","scale":{"domain":[20,50],"nice":false,"zero":false},"axis":{"title":null,"values":[20,30,40,50],"tickCount":4,"labelPadding":6}},"x2":{"field":"lat2"},"y":{"field":"alt","type":"quantitative","scale":{"domain":[85,805],"nice":false,"zero":false},"axis":{"title":"Altitude (km)","values":[100,200,300,400,500,600,700,800],"tickCount":8,"labelPadding":2,"titlePadding":10}},"y2":{"field":"alt2"},"color":{"field":"a","type":"quantitative","scale":{"type":"linear","interpolate":"rgb","domain":[0,1,2,3,3.5,4,5,6,7,8,9,10],"range":["#000082","#0000ff","#006eff","#00d2ff","#00ffff","#6effff","#ffffff","#ffff96","#ffff00","#ffaa00","#ff3200","#c00000"]},"legend":{"orient":"none","legendX":306,"legendY":-14,"title":"x 10\u00b9\u00b9","values":[0,2,4,6,8,10]}}}},
{"data":{"values":[{"lat":50}]},"mark":{"type":"rule","color":"black","strokeWidth":2.5},"encoding":{"x":{"field":"lat","type":"quantitative","scale":{"domain":[20,50]}}}},
{"data":{"values":[{"lat":20.2,"alt":872,"label":"(a)"}]},"mark":{"type":"text","align":"left","baseline":"middle","fontSize":19,"color":"#c02828"},"encoding":{"x":{"field":"lat","type":"quantitative","scale":{"domain":[20,50]}},"y":{"field":"alt","type":"quantitative","scale":{"domain":[85,805]}},"text":{"field":"label"}}}
]},
{"width":296,"height":226,"view":{"fill":"black","stroke":null},"title":{"text":"Tomography result","offset":-22,"dx":-4},"layer":[
{"data":{"name":"grid"},"transform":[{"filter":{"field":"b","valid":true}}],"mark":{"type":"rect","x2Offset":0.6,"y2Offset":-0.6},"encoding":{"x":{"field":"lat","type":"quantitative","scale":{"domain":[20,50],"nice":false,"zero":false},"axis":{"title":null,"values":[20,30,40,50],"tickCount":4,"labelPadding":6}},"x2":{"field":"lat2"},"y":{"field":"alt","type":"quantitative","scale":{"domain":[85,805],"nice":false,"zero":false},"axis":{"title":null,"values":[100,200,300,400,500,600,700,800],"tickCount":8,"labelPadding":2}},"y2":{"field":"alt2"},"color":{"field":"b","type":"quantitative","scale":{"type":"linear","interpolate":"rgb","domain":[0,1,2,3,3.5,4,5,6,7,8,9,10],"range":["#000082","#0000ff","#006eff","#00d2ff","#00ffff","#6effff","#ffffff","#ffff96","#ffff00","#ffaa00","#ff3200","#c00000"]},"legend":{"orient":"none","legendX":306,"legendY":-14,"title":"x 10\u00b9\u00b9","values":[0,2,4,6,8,10]}}}},
{"data":{"values":[{"lat":50}]},"mark":{"type":"rule","color":"black","strokeWidth":2.5},"encoding":{"x":{"field":"lat","type":"quantitative","scale":{"domain":[20,50]}}}},
{"data":{"values":[{"lat":21.3,"alt":872,"label":"(b)"}]},"mark":{"type":"text","align":"left","baseline":"middle","fontSize":19,"color":"#c02828"},"encoding":{"x":{"field":"lat","type":"quantitative","scale":{"domain":[20,50]}},"y":{"field":"alt","type":"quantitative","scale":{"domain":[85,805]}},"text":{"field":"label"}}}
]},
{"width":296,"height":226,"view":{"fill":"black","stroke":null},"title":{"text":"Difference between result & model","offset":-22,"dx":-4},"layer":[
{"data":{"name":"grid"},"transform":[{"filter":{"field":"c","valid":true}}],"mark":{"type":"rect","x2Offset":0.6,"y2Offset":-0.6},"encoding":{"x":{"field":"lat","type":"quantitative","scale":{"domain":[20,50],"nice":false,"zero":false},"axis":{"title":"Latitude (N)","values":[20,30,40,50],"tickCount":4,"labelPadding":6,"titlePadding":1}},"x2":{"field":"lat2"},"y":{"field":"alt","type":"quantitative","scale":{"domain":[85,805],"nice":false,"zero":false},"axis":{"title":"Altitude (km)","values":[100,200,300,400,500,600,700,800],"tickCount":8,"labelPadding":2,"titlePadding":10}},"y2":{"field":"alt2"},"color":{"field":"c","type":"quantitative","scale":{"type":"linear","interpolate":"rgb","domain":[-5,-4,-3,-2,-1.5,-1,0,1,2,3,4,5],"range":["#000082","#0000ff","#006eff","#00d2ff","#00ffff","#6effff","#ffffff","#ffff96","#ffff00","#ffaa00","#ff3200","#c00000"]},"legend":{"orient":"none","legendX":306,"legendY":-14,"title":"x 10\u00b9\u00b9","values":[-5,0,5]}}}},
{"data":{"values":[{"lat":50}]},"mark":{"type":"rule","color":"black","strokeWidth":2.5},"encoding":{"x":{"field":"lat","type":"quantitative","scale":{"domain":[20,50]}}}},
{"data":{"values":[{"lat":19.5,"alt":872,"label":"(c)"}]},"mark":{"type":"text","align":"left","baseline":"middle","fontSize":19,"color":"#c02828"},"encoding":{"x":{"field":"lat","type":"quantitative","scale":{"domain":[20,50]}},"y":{"field":"alt","type":"quantitative","scale":{"domain":[85,805]}},"text":{"field":"label"}}}
]},
{"width":296,"height":226,"view":{"fill":"black","stroke":null},"title":{"text":"Path count in grid","offset":-22,"dx":-4},"layer":[
{"data":{"name":"grid"},"transform":[{"filter":{"field":"d","valid":true}}],"mark":{"type":"rect","x2Offset":0.6,"y2Offset":-0.6},"encoding":{"x":{"field":"lat","type":"quantitative","scale":{"domain":[20,50],"nice":false,"zero":false},"axis":{"title":"Latitude (N)","values":[20,30,40,50],"tickCount":4,"labelPadding":6,"titlePadding":1}},"x2":{"field":"lat2"},"y":{"field":"alt","type":"quantitative","scale":{"domain":[85,805],"nice":false,"zero":false},"axis":{"title":null,"values":[100,200,300,400,500,600,700,800],"tickCount":8,"labelPadding":2}},"y2":{"field":"alt2"},"color":{"field":"d","type":"quantitative","scale":{"type":"linear","interpolate":"rgb","domain":[0,25,50,75,87.5,100,125,150,175,200,225,250],"range":["#000082","#0000ff","#006eff","#00d2ff","#00ffff","#6effff","#ffffff","#ffff96","#ffff00","#ffaa00","#ff3200","#c00000"]},"legend":{"orient":"none","legendX":306,"legendY":1,"title":null,"values":[0,50,100,150,200,250]}}}},
{"data":{"values":[{"lat":50}]},"mark":{"type":"rule","color":"black","strokeWidth":2.5},"encoding":{"x":{"field":"lat","type":"quantitative","scale":{"domain":[20,50]}}}},
{"data":{"values":[{"lat":20.8,"alt":872,"label":"(d)"}]},"mark":{"type":"text","align":"left","baseline":"middle","fontSize":19,"color":"#c02828"},"encoding":{"x":{"field":"lat","type":"quantitative","scale":{"domain":[20,50]}},"y":{"field":"alt","type":"quantitative","scale":{"domain":[85,805]}},"text":{"field":"label"}}}
]}
]}
